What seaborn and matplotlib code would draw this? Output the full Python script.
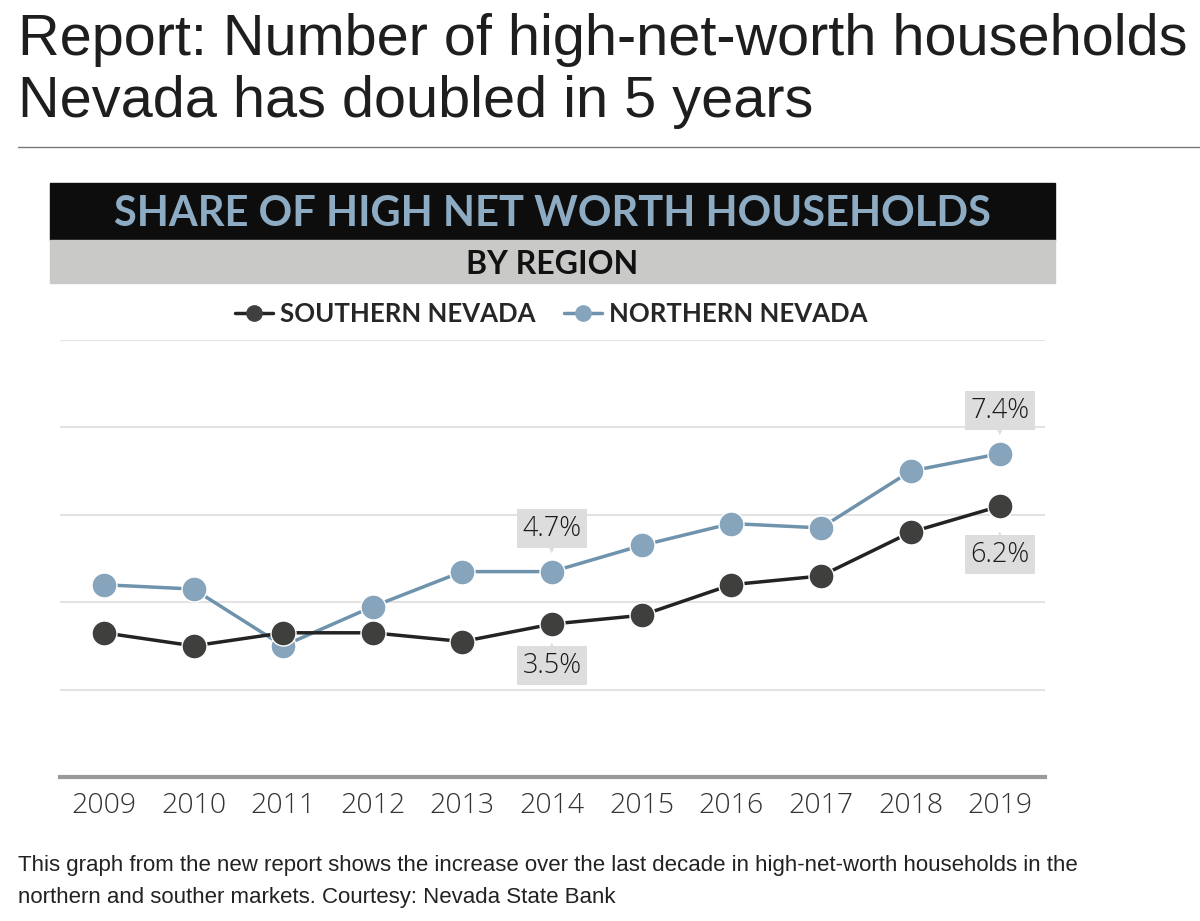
import matplotlib
matplotlib.use("Agg")
import matplotlib.pyplot as plt
import seaborn as sns
import pandas as pd
from matplotlib.patches import Rectangle
from matplotlib.lines import Line2D

years = [2009, 2010, 2011, 2012, 2013, 2014, 2015, 2016, 2017, 2018, 2019]
southern = [3.3, 3.0, 3.3, 3.3, 3.1, 3.5, 3.7, 4.4, 4.6, 5.6, 6.2]
northern = [4.4, 4.3, 3.0, 3.9, 4.7, 4.7, 5.3, 5.8, 5.7, 7.0, 7.4]
series_names = ["SOUTHERN NEVADA", "NORTHERN NEVADA"]
y_ticks = [0, 2, 4, 6, 8, 10]

df = pd.DataFrame({
    "year": years * 2,
    "share": southern + northern,
    "region": [series_names[0]] * len(years) + [series_names[1]] * len(years),
})

sns.set_theme(style="white")
plt.rcParams["font.family"] = ["Liberation Sans", "DejaVu Sans"]

fig = plt.figure(figsize=(12, 9.21), dpi=100)
W, H = 1200, 921

def fx(px):
    return px / W

def fy(py):
    return 1 - py / H

# headline
fig.text(fx(18), fy(55), "Report: Number of high-net-worth households", fontsize=41.5,
         color="#1e1e1e", ha="left", va="baseline", family="Liberation Sans")
fig.text(fx(18), fy(117), "Nevada has doubled in 5 years", fontsize=41.5,
         color="#1e1e1e", ha="left", va="baseline", family="Liberation Sans")
fig.add_artist(plt.Line2D([fx(18), 1.0], [fy(147), fy(147)], color="#777777", lw=1))

# banners
fig.add_artist(Rectangle((fx(50), fy(240)), fx(1055) - fx(50), fy(183) - fy(240),
                         transform=fig.transFigure, color="#0d0d0d", zorder=0))
fig.add_artist(Rectangle((fx(50), fy(283)), fx(1055) - fx(50), fy(240) - fy(283),
                         transform=fig.transFigure, color="#c9c9c7", zorder=0))
fig.text(fx(552), fy(214), "SHARE OF HIGH NET WORTH HOUSEHOLDS", fontsize=30,
         fontweight="bold", color="#8dabc3", ha="center", va="center", family="Lato")
fig.text(fx(552), fy(264), "BY REGION", fontsize=23, fontweight="bold",
         color="#111111", ha="center", va="center", family="Lato")

south_col = "#3f3f3d"
north_col = "#86a5bd"
south_line = "#232323"
north_line = "#6f93ad"

ax = fig.add_axes([fx(60), fy(777), fx(1045) - fx(60), fy(340) - fy(777)])
sns.lineplot(data=df[df.region == series_names[0]], x="year", y="share", ax=ax,
             color=south_line, lw=2.5, marker="o", markersize=18,
             markerfacecolor=south_col, markeredgecolor="white", markeredgewidth=1,
             zorder=4)
sns.lineplot(data=df[df.region == series_names[1]], x="year", y="share", ax=ax,
             color=north_line, lw=2.5, marker="o", markersize=18,
             markerfacecolor=north_col, markeredgecolor="white", markeredgewidth=1,
             zorder=3)

ax.set_xlim(2008.51, 2019.5)
ax.set_ylim(0, 10)
ax.set_yticks(y_ticks)
ax.set_yticklabels([])
ax.tick_params(axis="y", length=0)
ax.set_xticks(years)
ax.set_xticklabels([str(y) for y in years], fontsize=20.5, color="#333333",
                   family="Open Sans", fontweight="light")
ax.tick_params(axis="x", length=0, pad=11)
ax.set_xlabel("")
ax.set_ylabel("")
for v in y_ticks[1:]:
    ax.axhline(v, color="#e3e3e3", lw=1.5, zorder=0)
for s in ["top", "right", "left"]:
    ax.spines[s].set_visible(False)
ax.spines["bottom"].set_color("#9a9a9a")
ax.spines["bottom"].set_linewidth(3)
if ax.get_legend():
    ax.get_legend().remove()

# value labels with small pointer
def label(i, vals, off):
    ax.annotate(f"{vals[i]:.1f}%", xy=(years[i], vals[i]), xytext=(0, off),
                textcoords="offset points", ha="center", va="center",
                fontsize=19.5, color="#1a1a1a", family="Open Sans",
                fontweight="light",
                bbox=dict(boxstyle="square,pad=0.2", fc="#dddddd", ec="none"),
                zorder=6)
    sign = 1 if off > 0 else -1
    ax.annotate("▼" if off > 0 else "▲", xy=(years[i], vals[i]),
                xytext=(0, off - sign * 14.5), textcoords="offset points",
                ha="center", va="center", fontsize=7, color="#dddddd",
                family="DejaVu Sans", zorder=5)

label(5, northern, 31)
label(5, southern, -30)
label(10, northern, 31)
label(10, southern, -35)

# legend
handles = [
    Line2D([0], [0], color=south_line, lw=2.5, marker="o", markersize=11,
           markerfacecolor=south_col, markeredgecolor=south_col),
    Line2D([0], [0], color=north_line, lw=2.5, marker="o", markersize=11,
           markerfacecolor=north_col, markeredgecolor=north_col),
]
leg = fig.legend(handles, series_names, loc="center", ncol=2,
                 bbox_to_anchor=(fx(551), fy(314)), frameon=False,
                 handlelength=1.5, handletextpad=0.25, columnspacing=1.1,
                 prop={"family": "Lato", "weight": "bold", "size": 18.5})

fig.text(fx(18), fy(871), "This graph from the new report shows the increase over the last decade in high-net-worth households in the",
         fontsize=16, color="#222222", ha="left", va="baseline", family="Liberation Sans")
fig.text(fx(18), fy(903), "northern and souther markets. Courtesy: Nevada State Bank",
         fontsize=16, color="#222222", ha="left", va="baseline", family="Liberation Sans")

fig.savefig("out.png", dpi=100, facecolor="white")
